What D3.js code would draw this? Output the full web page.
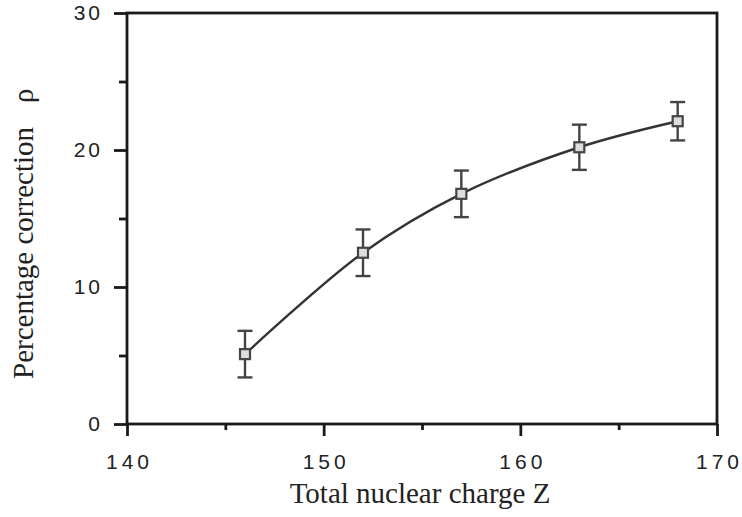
<!DOCTYPE html>
<html>
<head>
<meta charset="utf-8">
<script src="https://cdn.jsdelivr.net/npm/d3@7"></script>
<style>
  body { margin: 0; background: #fff; }
  svg { display: block; }
</style>
</head>
<body>
<div id="chart"></div>
<script>
"use strict";

// total nuclear charge Z and percentage correction rho
const chargeZ = [146, 152, 157, 163, 168];
const correction = [5.1, 12.5, 16.8, 20.2, 22.1];
const correctionErr = [1.7, 1.7, 1.7, 1.65, 1.4];

const xTicks = [140, 150, 160, 170];
const xMinorTicks = [145, 155, 165];
const yTicks = [0, 10, 20, 30];
const yMinorTicks = [5, 15, 25];

const width = 742, height = 517;
const margin = {top: 13, right: 25, bottom: 93, left: 127};

let svg = d3.select("#chart").append("svg")
    .attr("width", width)
    .attr("height", height);

let x = d3.scaleLinear().domain([140, 170]).range([margin.left, width - margin.right]);
let y = d3.scaleLinear().domain([0, 30]).range([height - margin.bottom, margin.top]);

let points = chargeZ.map((z, i) => ({z: z, v: correction[i], e: correctionErr[i]}));

// frame
svg.append("rect")
    .attr("x", x(140))
    .attr("y", y(30))
    .attr("width", x(170) - x(140))
    .attr("height", y(0) - y(30))
    .style("fill", "none")
    .style("stroke", "#1a1a1a")
    .style("stroke-width", 2.8);

// x axis, major + minor ticks pointing down
let xAxis = svg.append("g").attr("transform", `translate(0,${y(0)})`);
xAxis.call(d3.axisBottom(x).tickValues(xTicks).tickSize(12).tickFormat(d3.format("d")));
xAxis.append("g").call(d3.axisBottom(x).tickValues(xMinorTicks).tickSize(6).tickFormat(""));
xAxis.selectAll(".domain").remove();
xAxis.selectAll("line").style("stroke", "#1a1a1a").style("stroke-width", 2.8);
xAxis.selectAll("text")
    .attr("y", 30)
    .attr("dy", "0.71em")
    .attr("dx", 2)
    .style("font-family", "Arial, 'Liberation Sans', sans-serif")
    .style("font-size", "21px")
    .style("letter-spacing", "4px")
    .style("fill", "#222");

// y axis, major + minor ticks pointing left
let yAxis = svg.append("g").attr("transform", `translate(${x(140)},0)`);
yAxis.call(d3.axisLeft(y).tickValues(yTicks).tickSize(13).tickFormat(d3.format("d")));
yAxis.append("g").call(d3.axisLeft(y).tickValues(yMinorTicks).tickSize(8).tickFormat(""));
yAxis.selectAll(".domain").remove();
yAxis.selectAll("line").style("stroke", "#1a1a1a").style("stroke-width", 2.8);
yAxis.selectAll("text")
    .attr("x", -24)
    .style("font-family", "Arial, 'Liberation Sans', sans-serif")
    .style("font-size", "21px")
    .style("letter-spacing", "3px")
    .style("fill", "#222");

// axis titles
svg.append("text")
    .attr("x", 420)
    .attr("y", 503)
    .attr("text-anchor", "middle")
    .style("font-family", "'Liberation Serif', 'Times New Roman', serif")
    .style("font-size", "29px")
    .style("fill", "#222")
    .text("Total nuclear charge Z");

let yTitle = svg.append("text")
    .attr("transform", "translate(33,379) rotate(-90)")
    .style("font-family", "'Liberation Serif', 'Times New Roman', serif")
    .style("font-size", "29px")
    .style("fill", "#222");
yTitle.append("tspan").text("Percentage correction");
yTitle.append("tspan").attr("dx", 24).text("ρ");

// smooth curve through the points
let line = d3.line()
    .x(d => x(d.z))
    .y(d => y(d.v))
    .curve(d3.curveCatmullRom.alpha(0.5));

svg.append("path")
    .datum(points)
    .attr("d", line)
    .style("fill", "none")
    .style("stroke", "#333")
    .style("stroke-width", 2.4);

// error bars
let capW = 7.5;
let bars = svg.append("g")
    .style("stroke", "#444")
    .style("stroke-width", 2.4);

bars.selectAll(".stem")
    .data(points)
    .enter().append("line")
    .attr("class", "stem")
    .attr("x1", d => x(d.z))
    .attr("x2", d => x(d.z))
    .attr("y1", d => y(d.v + d.e))
    .attr("y2", d => y(d.v - d.e));

bars.selectAll(".capTop")
    .data(points)
    .enter().append("line")
    .attr("class", "capTop")
    .attr("x1", d => x(d.z) - capW)
    .attr("x2", d => x(d.z) + capW)
    .attr("y1", d => y(d.v + d.e))
    .attr("y2", d => y(d.v + d.e));

bars.selectAll(".capBottom")
    .data(points)
    .enter().append("line")
    .attr("class", "capBottom")
    .attr("x1", d => x(d.z) - capW)
    .attr("x2", d => x(d.z) + capW)
    .attr("y1", d => y(d.v - d.e))
    .attr("y2", d => y(d.v - d.e));

// open square markers
let box = 10;
svg.selectAll(".marker")
    .data(points)
    .enter().append("rect")
    .attr("class", "marker")
    .attr("x", d => x(d.z) - box / 2)
    .attr("y", d => y(d.v) - box / 2)
    .attr("width", box)
    .attr("height", box)
    .style("fill", "#ddd")
    .style("stroke", "#444")
    .style("stroke-width", 2.2);
</script>
</body>
</html>
